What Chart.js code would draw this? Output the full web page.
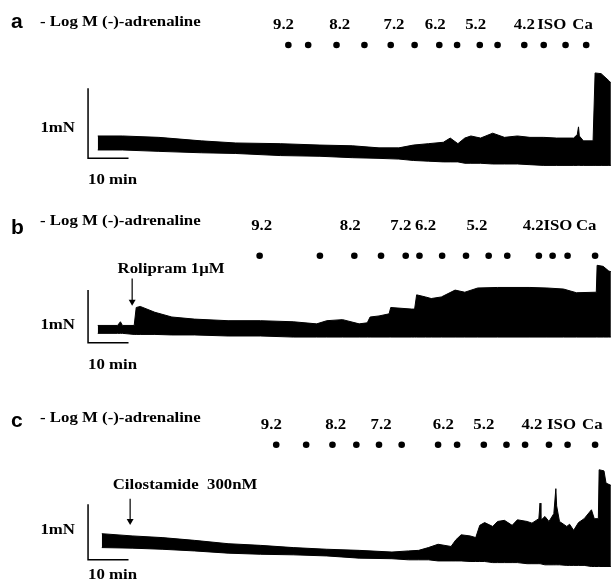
<!DOCTYPE html>
<html>
<head>
<meta charset="utf-8">
<script src="https://cdn.jsdelivr.net/npm/chart.js"></script>
<style>
body { margin: 0; background: #fff; width: 615px; height: 583px; overflow: hidden; }
canvas { position: absolute; left: 0; }
</style>
</head>
<body>
<canvas id="pa" width="615" height="195" style="top:0px"></canvas>
<canvas id="pb" width="615" height="195" style="top:195px"></canvas>
<canvas id="pc" width="615" height="193" style="top:390px"></canvas>
<script>
// time in min, tension in mN
var doseLabels = ["9.2", "8.2", "7.2", "6.2", "5.2", "4.2", "ISO", "Ca"]

// panel a - control
var aTime = [0, 6.1, 15.1, 25.6, 34.1, 45.1, 54.9, 62.9, 69.5, 74.4, 78.0, 81.7, 85.4, 87.1, 89.0, 90.7, 92.2, 94.6, 97.6, 100.5, 103.7, 106.8, 110.2, 113.4, 117.6, 118.5, 118.8, 119.0, 120.0, 122.4, 122.9, 124.4, 126.3, 126.8]
var aUpper = [0.32, 0.32, 0.30, 0.25, 0.22, 0.21, 0.19, 0.18, 0.15, 0.15, 0.19, 0.21, 0.23, 0.29, 0.21, 0.29, 0.32, 0.29, 0.36, 0.30, 0.32, 0.30, 0.30, 0.29, 0.29, 0.34, 0.45, 0.32, 0.25, 0.25, 1.22, 1.21, 1.11, 1.08]
var aLower = [0.12, 0.12, 0.10, 0.08, 0.07, 0.04, 0.03, 0.01, 0, -0.01, -0.03, -0.04, -0.05, -0.05, -0.05, -0.07, -0.07, -0.07, -0.08, -0.08, -0.08, -0.09, -0.10, -0.10, -0.10, -0.10, -0.10, -0.10, -0.10, -0.10, -0.10, -0.10, -0.10, -0.10]
var aDoses = [47.1, 52.0, 59.0, 65.9, 72.4, 78.3, 84.4, 88.8, 94.4, 98.8, 105.4, 110.2, 115.6, 120.7]
var aLabelTimes = [45.9, 59.8, 73.2, 83.4, 93.4, 105.4, 112.2, 119.8]

// panel b - rolipram
var bTime = [0, 4.9, 5.6, 6.1, 9.0, 9.5, 10.5, 14.1, 18.3, 23.9, 32.2, 40.2, 48.3, 54.1, 56.6, 60.5, 64.6, 66.6, 67.3, 69.5, 72.0, 72.4, 77.6, 78.3, 78.8, 81.0, 82.4, 84.9, 88.3, 90.7, 93.9, 98.8, 106.8, 111.0, 115.1, 118.3, 123.2, 123.4, 124.9, 126.3, 126.8]
var bUpper = [0.33, 0.33, 0.40, 0.33, 0.33, 0.67, 0.69, 0.58, 0.49, 0.45, 0.42, 0.42, 0.40, 0.36, 0.42, 0.44, 0.36, 0.38, 0.49, 0.51, 0.55, 0.67, 0.64, 0.64, 0.91, 0.87, 0.84, 0.87, 1.00, 0.96, 1.04, 1.05, 1.05, 1.04, 1.02, 0.95, 0.96, 1.47, 1.45, 1.36, 1.35]
var bLower = [0.18, 0.18, 0.18, 0.18, 0.16, 0.16, 0.16, 0.16, 0.15, 0.15, 0.13, 0.13, 0.11, 0.11, 0.11, 0.11, 0.11, 0.11, 0.11, 0.11, 0.11, 0.11, 0.11, 0.11, 0.11, 0.11, 0.11, 0.11, 0.11, 0.11, 0.11, 0.11, 0.11, 0.11, 0.11, 0.11, 0.11, 0.11, 0.11, 0.11, 0.11]
var bDoses = [40.0, 54.9, 63.4, 70.0, 76.1, 79.5, 85.1, 91.0, 96.6, 101.2, 109.0, 112.4, 116.1, 122.9]
var bLabelTimes = [40.5, 62.4, 74.9, 81.0, 93.7, 107.6, 113.7, 120.7]

// panel c - cilostamide
var cTime = [1.0, 8.5, 15.9, 23.9, 32.2, 40.2, 48.3, 56.6, 64.6, 72.7, 76.8, 79.3, 81.7, 84.1, 87.3, 88.5, 89.8, 92.0, 93.4, 94.4, 95.6, 97.6, 98.8, 100.5, 102.4, 103.7, 106.1, 107.3, 109.0, 109.3, 109.5, 110.5, 111.5, 112.7, 113.2, 113.4, 114.1, 115.9, 116.6, 117.6, 118.8, 120.2, 122.0, 122.7, 123.7, 123.9, 125.1, 125.6, 126.8]
var cUpper = [0.47, 0.43, 0.40, 0.35, 0.29, 0.26, 0.22, 0.19, 0.17, 0.14, 0.16, 0.17, 0.22, 0.28, 0.24, 0.36, 0.45, 0.43, 0.40, 0.62, 0.67, 0.60, 0.69, 0.71, 0.62, 0.72, 0.69, 0.66, 0.74, 1.02, 0.71, 0.78, 0.69, 0.83, 1.28, 0.97, 0.69, 0.60, 0.64, 0.53, 0.67, 0.74, 0.90, 0.74, 0.74, 1.62, 1.60, 1.38, 1.34]
var cLower = [0.22, 0.21, 0.19, 0.16, 0.12, 0.10, 0.09, 0.07, 0.03, 0.02, 0, 0, 0, -0.02, -0.02, -0.02, -0.02, -0.03, -0.03, -0.03, -0.03, -0.05, -0.05, -0.05, -0.05, -0.05, -0.07, -0.07, -0.07, -0.07, -0.07, -0.09, -0.09, -0.09, -0.09, -0.09, -0.09, -0.10, -0.10, -0.10, -0.10, -0.10, -0.12, -0.12, -0.12, -0.12, -0.12, -0.12, -0.12]
var cDoses = [44.1, 51.5, 58.0, 63.9, 69.5, 75.1, 84.1, 88.8, 95.4, 101.0, 105.6, 111.5, 116.1, 122.9]
var cLabelTimes = [42.9, 58.8, 70.0, 85.4, 95.4, 107.3, 114.6, 122.2]

var serif = 'bold 14px "Liberation Serif", "Times New Roman", serif'

function pts(xs, ys) {
    return xs.map(function (x, i) { return { x: x, y: ys[i] } })
}

function text(ctx, s, x, y, align) {
    ctx.save()
    ctx.font = serif
    ctx.textAlign = align
    ctx.textBaseline = 'middle'
    ctx.fillStyle = '#000'
    ctx.translate(x, y)
    ctx.scale(1.2, 1)
    ctx.fillText(s, 0, 0)
    ctx.restore()
}

function makePanel(id, p) {
    var labelsPlugin = {
        id: 'labels_' + id,
        afterDatasetsDraw: function (chart) {
            var ctx = chart.ctx
            var xs = chart.scales.x, ys = chart.scales.y
            ctx.save()
            ctx.font = 'bold 21px "Liberation Sans", Arial, sans-serif'
            ctx.textBaseline = 'middle'
            ctx.fillStyle = '#000'
            ctx.fillText(p.letter, 11, p.letterY)
            ctx.restore()
            text(ctx, '- Log M (-)-adrenaline', 40, p.titleY, 'left')
            text(ctx, '1mN', 75, p.mnY, 'right')
            text(ctx, '10 min', 88, p.minY, 'left')
            p.labelTimes.forEach(function (t, i) {
                text(ctx, doseLabels[i], xs.getPixelForValue(t), ys.getPixelForValue(p.labelLevel), 'center')
            })
            if (p.drug) {
                text(ctx, p.drug.name, xs.getPixelForValue(p.drug.tx), ys.getPixelForValue(p.drug.ty), 'left')
            }
        }
    }

    var datasets = [
        { data: pts(p.time, p.lower), borderColor: '#000', borderWidth: 1, pointRadius: 0, fill: false },
        { data: pts(p.time, p.upper), borderColor: '#000', borderWidth: 1, pointRadius: 0, fill: '-1', backgroundColor: '#000' },
        { data: p.doses.map(function (t) { return { x: t, y: p.doseLevel } }), showLine: false, pointRadius: 3.3, pointBackgroundColor: '#000', pointBorderWidth: 0 },
        // scale bar: 10 min x 1 mN
        { data: [{ x: -2.4, y: 1 }, { x: -2.4, y: 0 }, { x: 7.6, y: 0 }], borderColor: '#000', borderWidth: 1.5, pointRadius: 0, fill: false }
    ]
    if (p.drug) {
        datasets.push({
            data: [{ x: p.drug.at, y: p.drug.from }, { x: p.drug.at, y: p.drug.to }],
            borderColor: '#000', borderWidth: 1.2, fill: false,
            pointRadius: [0, 4], pointStyle: 'triangle', pointRotation: 180,
            pointBackgroundColor: '#000', pointBorderWidth: 0
        })
    }

    return new Chart(document.getElementById(id), {
        type: 'line',
        data: { datasets: datasets },
        options: {
            responsive: false,
            animation: false,
            layout: { padding: 0 },
            elements: { line: { tension: 0 } },
            plugins: { legend: { display: false }, tooltip: { enabled: false } },
            scales: {
                x: { type: 'linear', min: -23.17, max: 126.83, display: false },
                y: { min: p.ymin, max: p.ymax, display: false }
            }
        },
        plugins: [labelsPlugin]
    })
}

makePanel('pa', {
    letter: 'a', letterY: 22, titleY: 22, mnY: 128, minY: 180,
    time: aTime, upper: aUpper, lower: aLower,
    doses: aDoses, doseLevel: 1.62, labelTimes: aLabelTimes, labelLevel: 1.90,
    ymin: -0.466, ymax: 2.205
})

makePanel('pb', {
    letter: 'b', letterY: 33, titleY: 26, mnY: 130, minY: 170,
    time: bTime, upper: bUpper, lower: bLower,
    doses: bDoses, doseLevel: 1.65, labelTimes: bLabelTimes, labelLevel: 2.20,
    ymin: -0.818, ymax: 2.727,
    drug: { name: 'Rolipram 1\u03bcM', at: 8.5, from: 1.22, to: 0.78, tx: 4.9, ty: 1.40 }
})

makePanel('pc', {
    letter: 'c', letterY: 31, titleY: 28, mnY: 140, minY: 185,
    time: cTime, upper: cUpper, lower: cLower,
    doses: cDoses, doseLevel: 2.07, labelTimes: cLabelTimes, labelLevel: 2.41,
    ymin: -0.345, ymax: 2.983,
    drug: { name: 'Cilostamide  300nM', at: 8.0, from: 1.10, to: 0.70, tx: 3.7, ty: 1.33 }
})
</script>
</body>
</html>
